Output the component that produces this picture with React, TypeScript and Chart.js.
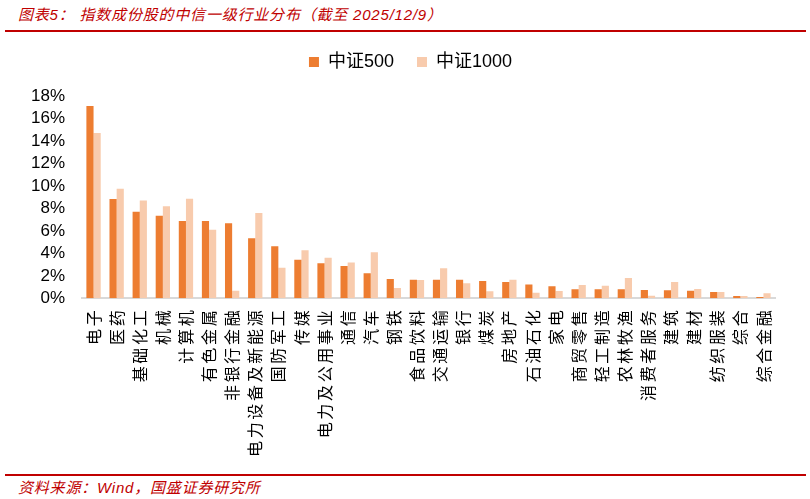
import type { ReactNode } from "react";
import { useEffect, useRef } from "react";
import Chart from "chart.js/auto";

// 中信一级行业
const industries: string[] = [
  "电子", "医药", "基础化工", "机械", "计算机", "有色金属", "非银行金融",
  "电力设备及新能源", "国防军工", "传媒", "电力及公用事业", "通信", "汽车",
  "钢铁", "食品饮料", "交通运输", "银行", "煤炭", "房地产", "石油石化",
  "家电", "商贸零售", "轻工制造", "农林牧渔", "消费者服务", "建筑", "建材",
  "纺织服装", "综合", "综合金融",
];

// weights in %
const csi500: number[] = [
  17.1, 8.83, 7.7, 7.35, 6.88, 6.88, 6.67, 5.34, 4.63, 3.43, 3.12, 2.88, 2.23,
  1.72, 1.66, 1.66, 1.66, 1.54, 1.45, 1.22, 1.08, 0.8, 0.8, 0.8, 0.74, 0.71,
  0.68, 0.56, 0.2, 0.12,
];
const csi1000: number[] = [
  14.7, 9.75, 8.7, 8.2, 8.86, 6.1, 0.68, 7.59, 2.72, 4.27, 3.62, 3.18, 4.1,
  0.92, 1.63, 2.67, 1.34, 0.62, 1.66, 0.5, 0.66, 1.19, 1.13, 1.81, 0.24, 1.45,
  0.83, 0.56, 0.2, 0.45,
];

const seriesNames = ["中证500", "中证1000"];
const yTicks = [0, 2, 4, 6, 8, 10, 12, 14, 16, 18];

const RED = "#c00000";
const SANS = "'Liberation Sans', 'Noto Sans CJK SC', sans-serif";

// push the plot down a little below the legend, and nudge the legend right
const legendTweak = {
  id: "legendTweak",
  beforeInit(chart: any) {
    const origFit = chart.legend.fit;
    chart.legend.fit = function fit() {
      origFit.bind(chart.legend)();
      this.height += 15;
    };
  },
  afterLayout(chart: any) {
    chart.legend.left += 8;
    chart.legend.right += 8;
  },
};

function BarChart(): ReactNode {
  const canvasRef = useRef<HTMLCanvasElement | null>(null);

  useEffect(() => {
    if (!canvasRef.current) return;

    const chart = new Chart(canvasRef.current, {
      type: "bar",
      data: {
        // spread the characters a bit, like the original vertical labels
        labels: industries.map((s) => s.split("").join("\u2006")),
        datasets: [
          {
            label: seriesNames[0],
            data: csi500,
            backgroundColor: "#ed7d31",
            categoryPercentage: 0.62,
            barPercentage: 1,
          },
          {
            label: seriesNames[1],
            data: csi1000,
            backgroundColor: "#f8cbad",
            categoryPercentage: 0.62,
            barPercentage: 1,
          },
        ],
      },
      plugins: [legendTweak],
      options: {
        responsive: true,
        maintainAspectRatio: false,
        animation: false,
        layout: { padding: { top: 30, left: 30, right: 35, bottom: 1 } },
        plugins: {
          legend: {
            position: "top",
            labels: {
              boxWidth: 10,
              boxHeight: 10,
              padding: 23,
              color: "#000",
              font: { family: SANS, size: 18 },
            },
          },
          tooltip: { enabled: false },
        },
        scales: {
          x: {
            grid: { display: false, drawTicks: false },
            border: { display: true, color: "#d9d9d9", width: 2 },
            afterFit: (axis: any) => {
              // rotated labels should not eat into the left margin
              axis.paddingLeft = 0;
              axis.paddingRight = 0;
            },
            ticks: {
              autoSkip: false,
              maxRotation: 90,
              minRotation: 90,
              padding: 12,
              color: "#000",
              font: { family: "'Noto Sans CJK SC', sans-serif", size: 16 },
            },
          },
          y: {
            min: 0,
            max: 18,
            afterBuildTicks: (axis) => {
              axis.ticks = yTicks.map((v) => ({ value: v }));
            },
            afterFit: (axis: any) => {
              axis.width = 52;
            },
            grid: { display: false, drawTicks: false },
            border: { display: false },
            ticks: {
              autoSkip: false,
              padding: 17,
              color: "#000",
              font: { family: SANS, size: 17 },
              callback: (v) => `${v}%`,
            },
          },
        },
      },
    });

    return () => chart.destroy();
  }, []);

  return <canvas ref={canvasRef} />;
}

export default function App(): ReactNode {
  return (
    <div
      style={{
        position: "absolute",
        left: 0,
        top: 0,
        width: 810,
        height: 499,
        background: "#fff",
        overflow: "hidden",
      }}
    >
      <div
        style={{
          position: "absolute",
          left: 18,
          top: 3,
          fontFamily: SANS,
          fontStyle: "italic",
          fontSize: 15,
          letterSpacing: 0.8,
          color: RED,
          whiteSpace: "nowrap",
        }}
      >
        图表5： 指数成份股的中信一级行业分布（截至 2025/12/9）
      </div>
      <div style={{ position: "absolute", left: 5, top: 30, width: 801, height: 1.5, background: RED }} />

      <div style={{ position: "absolute", left: 0, top: 0, width: 810, height: 470 }}>
        <BarChart />
      </div>

      <div style={{ position: "absolute", left: 5, top: 474, width: 801, height: 1.5, background: RED }} />
      <div
        style={{
          position: "absolute",
          left: 18,
          top: 476,
          fontFamily: SANS,
          fontStyle: "italic",
          fontSize: 15,
          letterSpacing: 0.8,
          color: RED,
          whiteSpace: "nowrap",
        }}
      >
        资料来源：Wind，国盛证券研究所
      </div>
    </div>
  );
}
